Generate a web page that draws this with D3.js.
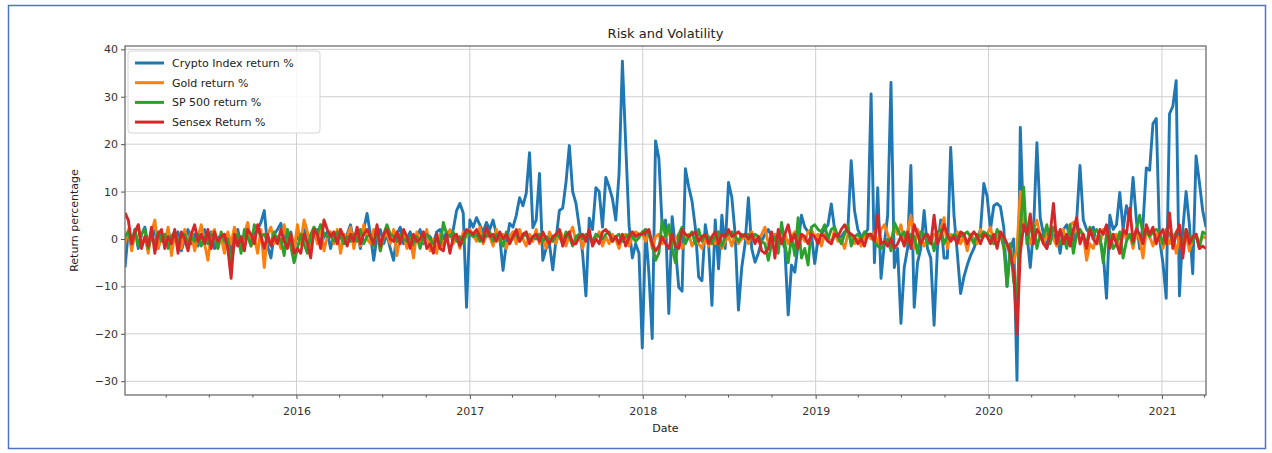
<!DOCTYPE html>
<html>
<head>
<meta charset="utf-8">
<script src="https://cdn.jsdelivr.net/npm/d3@7"></script>
<style>
  body { margin: 0; background: #ffffff; }
  svg { display: block; font-family: "DejaVu Sans", sans-serif; }
</style>
</head>
<body>
<svg id="chart" width="1272" height="453"></svg>
<script>
// Weekly return series (%), one value per week starting 2015-01-04
const startDate = new Date(2015, 0, 4);

const seriesNames = ["Crypto Index return %", "Gold return %", "SP 500 return %", "Sensex Return %"];
const seriesColors = ["#1f77b4", "#ff7f0e", "#2ca02c", "#d62728"];

const cryptoReturn = [
  -6, 1.5, -1, 2, -2, 1, 2.5, -1.5, 0.5, 1.8, -2, 1, -0.5,
  2, -1, 0.5, 1.5, -2.5, 0, 2, -1, 1, -1.5, 0.5, 2, -1,
  1.5, -2, 0, 1, -2.5, 0.5, -3, 1, 2, -1, 0.5, 3, -1,
  1, 2, 3.5, 6, -1.5, -4, 1, 2, 3.3, 0, -1, 1.5, -2,
  1, -1, 2, 0.5, -1.5, 1, 2, -1, 0.5, 1.5, -2, 1, 0,
  2, -1, 1, 3, -0.5, 1.5, -2, 2, 5.4, 1, -4.5, 0.5, 2,
  -1, 1, -2, -4.5, 1, 2.5, -1, 0, 1.5, -1.5, 0.5, 2, -1,
  1, 0.5, -1, 1.5, 2, 0, 1.5, 1, 2, 6, 7.5, 5.5, -14.4,
  4, 2.5, 4.5, 3, 1.5, 3.5, 2, 4, 1, 0.5, -6.6, -1, 3.3,
  2.5, 5, 8.7, 7, 9.6, 18.2, 2.4, 4, 13.8, -4.5, -2, -1, -6.5,
  0, 6, 6.5, 12, 19.7, 10, 7.5, 2.5, -3, -12, 4.4, 2, 10.8,
  10, 2.5, 13, 11, 8.5, 4, 13.8, 37.5, 20, 3, -4, -1, -3,
  -23, 2, -7.3, -21, 20.7, 17, 2.5, 4, -15.7, 4.7, -2, -10.2, -11,
  14.8, 11, 8, 2.4, -8, -8.8, 3, -1, -14, 4, -6.3, 5, -2,
  11.9, 8.8, 1, -15, -6, -1, 8.7, -2, -4.9, -3, -0.4, 1, 2,
  0.5, 1, 0.5, 0, -2, -16, -5.5, -7, -1, 5, 2.5, 1.5, 1,
  -5.2, 0, 1, 2, 3, 7.4, 2, 0, 0.5, 1.5, 2, 16.5, 6,
  2, 0.5, 1, 2, 30.6, -5, 10.8, -8.3, -1, 5, 33, -6, -2,
  -17.8, -6, -2, 15.5, -14.4, -5, -2, 6, -2, -4, -18.2, -2, 4,
  -4, -4, 19.3, 5, -3, -11.5, -8, -5.5, -3.5, -2, 0, 2, 11.7,
  9, 2, 7, 7.5, 6.8, 2.5, -10, -2, 0, -29.8, 23.5, 2.5, 1,
  -6, 2, 20.3, 4.5, 1, -2, 2, 0, 1.5, -3, 2, 3, 0,
  -2, 4, 15.5, 4, 2, 1, 2.5, -1, 0, -3, -12.5, 5, 2,
  3, 9.8, 2, 7, 4, 13, 4, -2, 3, 15, 14.5, 24.3, 25.4,
  0, -5, -12.5, 26.4, 28, 33.4, -12, 2, 10, 3, -7.3, 17.5, 12, 6, 2.5
];

const goldReturn = [
  -1, 2, -2.5, 1, 3, -1.5, 0.5, -3, 1.5, 4, -2, 0.5, -1,
  2.5, -3.5, 1, 0, -2, 2, -1, 1.5, -2.5, 0.5, 3, -1, -4.5,
  1, 2, -2, 0.5, -3, 1.5, -1, 2.5, 0, -2, 1, 3.5, -1.5,
  0.5, -3, 2, -6, 1, 2.5, -1, 0.5, -2, 3, -0.5, 1, -2.5,
  3, -1, 4, 1.5, -2, 2.5, -1, 3, -2.5, 0.5, 1.5, -1, 2,
  -3, 1, 0.5, 2.5, -2, 1, -1.5, 3, 0, -1, 2, 1.5, -2.5,
  0.5, 1, -1, 2, -3.5, 0.5, 1, -2, 0, -4, 1.5, -1, -0.5,
  2, -2.5, 0, -3, 1, -1.5, 0.5, 2, -1, 0.5, -2, 1.5, 0.5,
  2, 1, -0.5, 2.5, -1, 1, 0.5, -1.5, 2, -0.5, 1, -2, 0.5,
  1.5, -1, 2, 0, -1.5, 1, -0.5, 2, -1, 0.5, -2, 1.5, 0,
  -1, 2, 0.5, -1.5, 1, 2.5, -0.5, 1, -2, 0.5, 1, -1, 0,
  1.5, -1.5, 0.5, -1, 1, 0, -2, 0.5, 1, -1.5, 0.5, 1.5, 1,
  1, -0.5, 1.5, -2, 0.5, 1, -1, 0.5, 1.5, -1, 0, 1, -2,
  -0.5, 1, -1.5, 0, -1, -2, 0.5, -1.5, 0, -1, 1, -2, -0.5,
  0.5, -1.5, 1, -1, 0, 0.5, -1, 1.5, 0, -0.5, 1, 2.5, -1,
  0.5, 1, -0.5, 0, 1, -1, 0.5, 1.5, 0, 1, -0.5, 1.5, 2,
  0.5, 1, -1.5, 1, 0.5, -1, 2, -0.5, 0, -2, 1, 0.5, -1,
  0, -1.5, 0.5, 1, 0, 1.5, -1, 2, 3, 1, -0.5, 2.5, 1,
  3, -1, 1.5, 5, -2, 2, 0.5, -1.5, 0, -1, 1, 0.5, 2,
  4.5, -2, 1, 0, 1.5, -1, 0.5, -2.5, 1, 0, -1, 2, 0.5,
  1, 2.5, -1, 0.5, 1.5, -2, -1, -4, -5, -2, 10, 3, 1.5,
  -1, 2, 4, 0.5, -1, 1, 2, 0, -1.5, 1.5, 2, -1, 3,
  3.5, 0.5, 2, 1, -4.5, -1, -2, 0.5, -1, 2, 1, -1.5, 0.5,
  1, -3, 2, 0, 1, -2, 1.5, 0, -4, 2, 0.5, -1.5, 1,
  1.5, -2, 0.5, -1, 1, -3, 0.5, -1.5, 1, -2.5, 0, 1, -1, 0.5, 0.3
];

const sp500Return = [
  0.5, 1.5, -1, 2, -1.5, 1, 2, -2, 0.5, -1, 1.5, -0.5, 1,
  -2, 0.5, 1.5, -0.5, 0.5, 1, -1, 0.5, -0.5, 1, -1.5, 0.5, -1,
  1, 0.5, -2, 1.5, -0.5, 0, -5.5, -1, 1, -3, 2, 0.5, -1.5,
  3, 2, 0.5, 1, -0.5, -1, 1.5, -0.5, 0, -3.5, 2, -1.5, -5,
  -2, 1, -1, -3, 1, 2.5, 1, 3, 1, 0.5, 1, -0.5, 1.5,
  0.5, -1, 0.5, -0.5, 1, -0.5, 2, -1, 0.5, 1, -1.5, 2, -2.5,
  1, 3, 1, 0.5, -0.5, 1, 0, -0.5, 0.5, -1, 0.5, -2, 0.5,
  1, 0, -1, 0.5, -2, 3.5, 1, 0.5, 1.5, -0.5, 0.5, -1, 1.5,
  1, 0.5, 1, -0.5, 1, 0.5, 1.5, -0.5, 1, 0, -1.5, 1.5, -1,
  0.5, 1, -0.5, 0.5, 1, -0.5, 0.5, 0, 1, -0.5, 0.5, 0, -0.5,
  1, 0.5, -1, 1.5, 0.5, -1.5, 0.5, 1, 0, 1, 0.5, -0.5, 1,
  0.5, 0, 1, 1.5, -0.5, 0.5, 1, -0.5, 0.5, 1, 0.5, -0.5, 0.3,
  1.5, 2, 1, -1, -4.5, -3, 4, 0.5, 3, -2, -5, 1, 2.5,
  -1, 0.5, 1.5, -1, 2, -0.5, 1, 0.5, -1, 1, 1.5, -1.5, 0.5,
  1, 1.5, 0.5, -0.5, 1, 0.5, 1, 0, 1, 0.5, -0.5, -1, -4.5,
  -1, 0.5, -3, 3.5, -1, -5, 0.5, -3.5, 4.5, -4, -2, -5.5, 2.5,
  3, 2, 1.5, 3, 0, 2, 2.5, 0.5, -1, 1, 3, -1.5, 0.5,
  1, 0, 1.5, 0.5, 1, -0.5, -1.5, -2, -1, 0, -2.5, 3.5, 2,
  0.5, 1.5, -1, 1, 0.5, -3, 1.5, 1, -1, 0.5, -2.5, 1.5, 2,
  -1, 0.5, 0, 1, 0.5, 0.5, 1, 1.5, 0.5, -1, 1, 0.5, 1.5,
  1, 0.5, -1, 2, 1, -1.5, -10, -1, -9, -12, 2, 11, -1,
  2.5, 3, -2, 1, 0.5, 3, -1, 2.5, 1, -1, 0.5, -2, 3,
  -3, 1, 2, 0.5, -1, 2.5, 1, 2, 0.5, -5, 1, 1.5, -2,
  -1, 1.5, -4, -0.5, 1, -1, 2, 5, 1, 1.5, 0.5, 1.5, 2,
  1.5, -1, 2, 1, -0.5, 1.5, 2, -1.5, 2, 0.5, -0.5, 1, -2, 1.5, 1
];

const sensexReturn = [
  5.5, 4, -1, 1.5, 3, -2, 0.5, -1.5, 2.5, -3, 1, 2, -2,
  0.5, -1, 2, -3, 1.5, 0, -2.5, 1, 3, -0.5, 1, -1, 2,
  -2, 1.5, -0.5, 0.5, 1, -2, -8.3, 1, -1.5, 0.5, -2.5, 2, 1,
  -1, 3, 0.5, -2, 1, -1.5, 0.5, -1, 2, -0.5, -2, 1, -3,
  -2, -3, 1, -1, -4, 2, 1, -2, 4, 2, 0.5, 1.5, -1,
  2, 0.5, -1.5, 1, -0.5, 2.5, -1, 1, 2, 0.5, -1, 3, -1.5,
  1, 2, 0, -0.5, 1.5, -1, 2, 0.5, -2, 1, -0.5, 0, 1.5,
  -2, -1, -3, 1, -2, -2.5, 1, -3, 0.5, 1, -1.5, 0.5, 2,
  1.5, 1, 2, 0.5, -0.5, 2.5, 0.5, 1, -0.5, 1.5, 0, 1, -1,
  0.5, 2, -0.5, 1, 1.5, -1, 0.5, 1, -0.5, 1.5, 0, -1, 0.5,
  1, 2, -1.5, 0.5, 1.5, -1, -1, 0.5, 1, -0.5, 2, -1.5, 0,
  -1, 1.5, 2, 1, -0.5, 0.5, -1, 1, -1.5, 0.5, 1.5, 0.5, 1,
  1, 1.5, 2, -1, -2.5, -1.5, 0.5, -1, -2, 1, -1.5, -2, 2,
  1, 0.5, 1, 1.5, -0.5, 0.5, 1, -1, 0.5, 1.5, -1, 1, 0.5,
  2, 0.5, 1, 1.5, 0.5, 1, 0, 1, -1, 0.5, -2.5, -3, -2,
  1.5, -4, 2, -1, 1, 3, -0.5, 1, -2, 1, 0.5, -1, 1,
  0.5, -1, 1, 0.5, -0.5, -1, 1, 0.5, 2, 3, 1.5, 1, 0.5,
  -1, 0, -1.5, 1, 1, -0.5, 5, -1, -0.5, -1.5, 0, -2, -1,
  0.5, -1.5, 1.5, -2, 3, 1, -1, 0.5, 1, -1, 5, -1, 0.5,
  3, 1, -0.5, 0.5, -1, 1.5, 1, -1, 0.5, 1.5, 0.5, -1, 1,
  0.5, -1, 1, -2, 1.5, 0.5, -1, -3, -7, -20, -3, 3, 1,
  5.3, -1, 2, 1, -1, -2, 1, 7.5, -1, 2, -1, 1, -1.5,
  2, 4.5, -1, 1, -2, 2, 0, -1, 2, 1, 3, -2, 1,
  -1, -3, 2, 1, 6.5, -0.5, 2, 1, -1, 3, 1, 2.5, -1,
  1, 2, -1, 5.5, -2, 1, 3, -4, 2, -1, 0.5, 1, -2, -1.5, -2
];

const yTickValues = [-30, -20, -10, 0, 10, 20, 30, 40];
const xTickYears = [2016, 2017, 2018, 2019, 2020, 2021];

const chartTitle = "Risk and Volatility";
const xAxisLabel = "Date";
const yAxisLabel = "Return percentage";

// ---- drawing ----
const svg = d3.select("#chart");
const plot = { left: 125, right: 1206, top: 46, bottom: 395 };

const dates = cryptoReturn.map((_, i) => d3.timeWeek.offset(startDate, i));
const allSeries = [cryptoReturn, goldReturn, sp500Return, sensexReturn];

const x = d3.scaleTime()
  .domain([dates[0], dates[dates.length - 1]])
  .range([plot.left, plot.right]);
const y = d3.scaleLinear()
  .domain([-32.9, 40.7])
  .range([plot.bottom, plot.top]);

// outer frame
svg.append("rect")
  .attr("x", 8.5).attr("y", 5.5)
  .attr("width", 1257).attr("height", 443)
  .attr("fill", "#ffffff")
  .attr("stroke", "#4f73c3").attr("stroke-width", 1.5);

// grid
const yearDates = xTickYears.map(yr => new Date(yr, 0, 1));
const grid = svg.append("g").attr("stroke", "#cfcfcf").attr("stroke-width", 1);
grid.selectAll("line.h").data(yTickValues).join("line")
  .attr("x1", plot.left).attr("x2", plot.right)
  .attr("y1", d => y(d)).attr("y2", d => y(d));
grid.selectAll("line.v").data(yearDates).join("line")
  .attr("x1", d => x(d)).attr("x2", d => x(d))
  .attr("y1", plot.top).attr("y2", plot.bottom);

// series lines
svg.append("clipPath").attr("id", "plotclip")
  .append("rect").attr("x", plot.left).attr("y", plot.top)
  .attr("width", plot.right - plot.left).attr("height", plot.bottom - plot.top);

const lineGen = values => d3.line()
  .x((d, i) => x(dates[i]))
  .y(d => y(d))(values);

const lines = svg.append("g").attr("clip-path", "url(#plotclip)");
allSeries.forEach((values, k) => {
  lines.append("path")
    .attr("d", lineGen(values))
    .attr("fill", "none")
    .attr("stroke", seriesColors[k])
    .attr("stroke-width", 2.9)
    .attr("stroke-linejoin", "round");
});

// frame of the axes
svg.append("rect")
  .attr("x", plot.left).attr("y", plot.top)
  .attr("width", plot.right - plot.left).attr("height", plot.bottom - plot.top)
  .attr("fill", "none").attr("stroke", "#6e6e6e").attr("stroke-width", 1.3);

// y axis
const yAxis = d3.axisLeft(y).tickValues(yTickValues).tickSize(4).tickPadding(3)
  .tickFormat(d => d < 0 ? "\u2212" + Math.abs(d) : String(d));
const gy = svg.append("g").attr("transform", `translate(${plot.left},0)`).call(yAxis);
gy.select(".domain").remove();
gy.selectAll(".tick line").attr("stroke", "#555");
gy.selectAll(".tick text").attr("font-size", 11).attr("fill", "#333")
  .attr("font-family", "DejaVu Sans, sans-serif");

// x axis with yearly major ticks and quarterly minor ticks
const xAxis = d3.axisBottom(x).tickValues(yearDates).tickSize(4).tickPadding(8)
  .tickFormat(d3.timeFormat("%Y"));
const gx = svg.append("g").attr("transform", `translate(0,${plot.bottom})`).call(xAxis);
gx.select(".domain").remove();
gx.selectAll(".tick line").attr("stroke", "#555");
gx.selectAll(".tick text").attr("font-size", 11).attr("fill", "#333")
  .attr("font-family", "DejaVu Sans, sans-serif");

const minorDates = d3.timeMonth.every(3).range(dates[0], dates[dates.length - 1])
  .filter(d => d.getMonth() !== 0);
svg.append("g").selectAll("line").data(minorDates).join("line")
  .attr("x1", d => x(d)).attr("x2", d => x(d))
  .attr("y1", plot.bottom).attr("y2", plot.bottom + 2.5)
  .attr("stroke", "#555").attr("stroke-width", 1);

// labels
svg.append("text")
  .attr("x", (plot.left + plot.right) / 2).attr("y", 38)
  .attr("text-anchor", "middle").attr("font-size", 13).attr("fill", "#222")
  .text(chartTitle);
svg.append("text")
  .attr("x", (plot.left + plot.right) / 2).attr("y", 432)
  .attr("text-anchor", "middle").attr("font-size", 11).attr("fill", "#222")
  .text(xAxisLabel);
svg.append("text")
  .attr("transform", `translate(78,${(plot.top + plot.bottom) / 2}) rotate(-90)`)
  .attr("text-anchor", "middle").attr("font-size", 11).attr("fill", "#222")
  .text(yAxisLabel);

// legend
const legend = svg.append("g").attr("transform", "translate(128,51)");
legend.append("rect")
  .attr("width", 192).attr("height", 82).attr("rx", 3)
  .attr("fill", "#ffffff").attr("fill-opacity", 0.85)
  .attr("stroke", "#d6d6d6");
seriesNames.forEach((name, k) => {
  const cy = 12 + k * 19.7;
  legend.append("line")
    .attr("x1", 7).attr("x2", 36).attr("y1", cy).attr("y2", cy)
    .attr("stroke", seriesColors[k]).attr("stroke-width", 3);
  legend.append("text")
    .attr("x", 44).attr("y", cy).attr("dy", "0.35em")
    .attr("font-size", 11).attr("fill", "#222")
    .text(name);
});
</script>
</body>
</html>
